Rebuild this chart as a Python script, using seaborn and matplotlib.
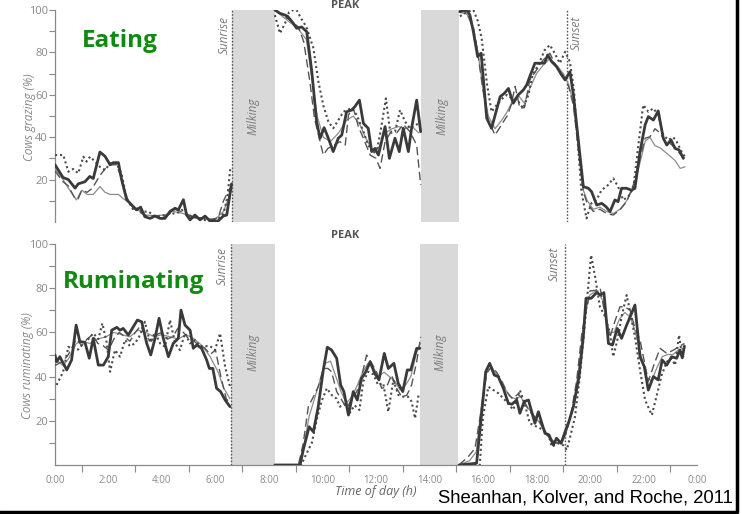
import numpy as np
import pandas as pd
import matplotlib
matplotlib.use("Agg")
import matplotlib.pyplot as plt
from matplotlib.lines import Line2D
import seaborn as sns

# ---------------- DATA (hour of day, % of cows) ----------------
# Eating (top panel)
eat_solid_t = [0.0, 0.3, 0.5, 0.75, 0.87, 1.12, 1.3, 1.43, 1.68, 1.87, 2.06, 2.18, 2.37, 2.49, 2.68, 2.87, 3.05, 3.2, 3.36, 3.55, 3.74, 3.93, 4.11, 4.3, 4.49, 4.61, 4.8, 4.92, 5.05, 5.23, 5.42, 5.61, 5.79, 6.1, 6.29, 6.42, 6.6,
               8.22, 8.41, 8.6, 8.7, 8.91, 9.03, 9.22, 9.41, 9.6, 9.78, 9.91, 10.06, 10.22, 10.4, 10.59, 10.72, 10.9, 11.09, 11.21, 11.38, 11.53, 11.71, 11.84, 11.96, 12.09, 12.34, 12.5, 12.71, 12.87, 13.02, 13.21, 13.33, 13.52, 13.67,
               15.14, 15.39, 15.51, 15.64, 15.8, 15.93, 16.14, 16.32, 16.64, 16.8, 16.95, 17.13, 17.32, 17.51, 17.63, 17.94, 18.13, 18.3, 18.42, 18.57, 18.75, 18.94, 19.07, 19.25, 19.38, 19.75, 19.94, 20.06, 20.25, 20.44, 20.6, 20.75, 20.93, 21.05, 21.18, 21.37, 21.55, 21.68, 21.87, 22.06, 22.18, 22.37, 22.55, 22.74, 22.87, 23.03, 23.18, 23.33, 23.49]
eat_solid_v = [27, 21, 20, 16, 18, 19, 21.5, 20.5, 33, 31, 27, 28, 28, 20, 10.5, 8, 5.7, 7, 2.5, 1.7, 2.8, 1.7, 1.7, 5, 6.5, 5.7, 10.5, 3.3, 1, 3.3, 1, 2.8, 0.5, 0.5, 2.8, 3.3, 18,
               100, 98.4, 97.6, 97, 93.7, 91.4, 92, 89.8, 71, 47.3, 39.5, 44.5, 39.5, 33.2, 39.5, 41, 52, 52.8, 54.4, 57.5, 46.5, 44.2, 33.2, 34.7, 31.6, 45, 30, 39.5, 33.2, 44.2, 33.2, 44.2, 57.5, 42.6,
               99.2, 100, 97.6, 89.8, 78, 79.6, 48.9, 44.2, 59.1, 60.7, 63, 56, 60, 62.3, 64.6, 74.9, 74.9, 75, 78.8, 75.6, 73.3, 69.3, 67, 70.9, 60, 16.7, 15.9, 14.3, 8, 8.8, 7.2, 4.9, 10.4, 9.6, 15.9, 15.9, 15, 15.9, 33.2, 45.8, 49.7, 48.1, 52.4, 39.5, 36.3, 38.7, 34.7, 34, 30]

eat_dot_t = [0.0, 0.31, 0.5, 0.68, 0.87, 1.06, 1.18, 1.31, 1.5, 1.68, 1.87, 2.06, 2.3, 2.49, 2.68, 2.93, 3.1, 3.24, 3.5, 3.74, 4.11, 4.36, 4.55, 4.74, 4.99, 5.36, 5.74, 6.11, 6.3, 6.45, 6.55,
             8.22, 8.41, 8.6, 8.75, 8.91, 9.03, 9.2, 9.4, 9.66, 9.85, 10.03, 10.22, 10.4, 10.59, 10.78, 10.95, 11.09, 11.28, 11.53, 11.71, 11.9, 12.05, 12.2, 12.37, 12.53, 12.71, 12.9, 13.09, 13.27, 13.52, 13.67,
             15.14, 15.39, 15.64, 15.8, 15.95, 16.15, 16.32, 16.5, 16.7, 16.9, 17.1, 17.32, 17.5, 17.7, 17.85, 18.1, 18.3, 18.5, 18.68, 18.87, 19.07, 19.25, 19.4, 19.68, 19.87, 20.05, 20.24, 20.43, 20.68, 20.87, 21.05, 21.24, 21.43, 21.62, 21.8, 21.99, 22.18, 22.37, 22.55, 22.74, 22.93, 23.11, 23.24, 23.43, 23.55]
eat_dot_v = [31.6, 31.6, 23.7, 25, 23, 30.8, 28.5, 30.8, 28.5, 26, 24.5, 27.7, 27.7, 22.6, 11.2, 5.7, 6.5, 4.9, 4.9, 2.5, 3.3, 4, 4, 5.7, 3.3, 1.7, 0.5, 1.7, 4, 12, 25,
             97.6, 89, 93.7, 99, 100, 100, 96, 92, 82, 66, 55, 47.3, 44.2, 48, 52, 53, 53.7, 50.5, 42.6, 36.3, 32.3, 34.7, 45, 58.3, 42.6, 42.6, 52.8, 47.3, 44.2, 46, 47.3,
             97, 99, 100, 95, 86.6, 65, 52, 55, 58, 60, 58, 56.8, 53.6, 60, 69, 74.9, 81, 83.5, 79.6, 74.9, 80.3, 75.6, 62, 14.3, 1.7, 8.8, 10.4, 15, 17.5, 20.6, 16.7, 10.4, 12, 16, 35.5, 55.2, 52, 53.6, 50.5, 41, 38.7, 40, 37.9, 33, 30.8]

eat_dash_t = [0.0, 0.3, 0.5, 0.75, 0.87, 1.0, 1.2, 1.4, 1.68, 1.87, 2.06, 2.3, 2.5, 2.7, 2.9, 3.1, 3.4, 3.7, 4.0, 4.3, 4.5, 4.7, 4.9, 5.2, 5.5, 5.8, 6.1, 6.3, 6.45, 6.6,
              8.22, 8.5, 8.8, 9.1, 9.3, 9.53, 9.7, 10.03, 10.2, 10.4, 10.65, 10.85, 10.97, 11.15, 11.34, 11.53, 11.78, 12.0, 12.15, 12.34, 12.53, 12.77, 13.02, 13.27, 13.52, 13.67,
              15.1, 15.4, 15.64, 15.8, 16.0, 16.2, 16.45, 16.7, 16.9, 17.05, 17.2, 17.38, 17.55, 17.75, 18.0, 18.25, 18.5, 18.75, 19.0, 19.2, 19.38, 19.6, 19.75, 19.87, 20.12, 20.37, 20.62, 20.87, 21.12, 21.37, 21.62, 21.87, 22.06, 22.24, 22.43, 22.62, 22.81, 23.0, 23.18, 23.37, 23.55]
eat_dash_v = [24, 19, 17, 11, 11, 15, 14, 16, 22, 25, 27, 27, 20, 11, 7, 5, 3, 3, 2, 4, 6, 5, 4, 2, 2, 1, 2, 10, 14, 17,
              100, 98, 95, 92, 85, 66, 48.9, 31.6, 34.7, 36, 37.9, 36.3, 50.5, 53.7, 45, 39.5, 31.6, 30, 25.3, 37.9, 41.9, 42, 46, 42.6, 36.3, 17.5,
              100, 99, 92, 80, 62, 48, 41, 46, 50, 55, 64, 53.6, 54, 67, 71.7, 76.4, 79.6, 73, 69, 64, 55, 30, 14.3, 9.6, 5, 6, 4, 3.3, 5.7, 9.6, 17.5, 30, 39.5, 40.2, 44, 42, 38, 37, 35, 32, 30]

eat_thin_t = [0.0, 0.3, 0.55, 0.8, 1.0, 1.2, 1.43, 1.68, 1.87, 2.06, 2.37, 2.55, 2.74, 2.93, 3.1, 3.36, 3.7, 4.11, 4.4, 4.8, 5.1, 5.6, 6.0, 6.3, 6.6,
              8.22, 8.5, 8.8, 9.1, 9.4, 9.6, 9.8, 10.03, 10.3, 10.6, 10.9, 11.15, 11.4, 11.6, 11.85, 12.1, 12.34, 12.6, 12.85, 13.1, 13.35, 13.6,
              15.1, 15.4, 15.64, 15.8, 16.0, 16.2, 16.45, 16.7, 16.9, 17.1, 17.3, 17.55, 17.75, 18.0, 18.25, 18.5, 18.75, 19.0, 19.2, 19.38, 19.6, 19.75, 19.9, 20.12, 20.37, 20.62, 20.87, 21.12, 21.37, 21.62, 21.87, 22.06, 22.24, 22.43, 22.62, 22.81, 23.0, 23.18, 23.37, 23.55]
eat_thin_v = [25, 20, 15, 10.4, 15, 13, 13, 16.7, 14, 13, 13, 11, 9.5, 7, 5.7, 3.3, 3, 3.3, 5, 4, 2, 1.5, 1.5, 5, 15,
              100, 97, 94, 91, 86, 68, 50, 40, 38, 42, 48, 50, 46, 40, 34, 35, 42, 44, 45, 44, 45, 42,
              99, 98, 91, 81, 63, 50, 44, 48, 52, 57, 60, 56, 63, 70, 74, 77, 74, 70, 65, 56, 32, 15, 10, 6, 7, 5, 4, 6, 10, 16, 28, 38, 40, 36, 35, 33, 31, 29, 25.3, 26]

# Ruminating (bottom panel)
rum_solid_t = [0.0, 0.06, 0.18, 0.31, 0.44, 0.62, 0.79, 0.93, 1.12, 1.28, 1.43, 1.62, 1.81, 1.99, 2.12, 2.31, 2.43, 2.55, 2.74, 2.93, 3.08, 3.24, 3.43, 3.58, 3.74, 3.89, 4.05, 4.24, 4.42, 4.61, 4.71, 4.86, 5.05, 5.17, 5.3, 5.48, 5.67, 5.77, 5.9, 6.04, 6.19, 6.36, 6.54,
               8.22, 9.16, 9.28, 9.5, 9.66, 9.84, 10.03, 10.18, 10.34, 10.53, 10.68, 10.8, 10.97, 11.15, 11.3, 11.46, 11.62, 11.78, 11.95, 12.11, 12.31, 12.46, 12.67, 12.83, 13.0, 13.17, 13.3, 13.52, 13.64,
               15.1, 15.76, 15.95, 16.1, 16.25, 16.42, 16.57, 16.76, 16.95, 17.08, 17.26, 17.38, 17.54, 17.7, 17.94, 18.07, 18.2, 18.32, 18.47, 18.63, 18.75, 18.92, 19.07, 19.21, 19.38, 19.59, 19.75, 19.85, 20.04, 20.25, 20.38, 20.52, 20.69, 20.84, 21.02, 21.18, 21.37, 21.53, 21.68, 21.87, 22.03, 22.18, 22.37, 22.55, 22.7, 22.87, 23.05, 23.24, 23.36, 23.45, 23.53]
rum_solid_v = [49.8, 46.7, 49, 46, 43, 47.5, 63.3, 55.8, 55.5, 48.3, 57.3, 45.2, 45.2, 49, 61, 62.3, 61, 61.8, 58.8, 62.6, 65.6, 64.8, 55, 49.8, 57.3, 66.4, 57.3, 49, 55, 57.3, 70.1, 63.3, 61, 52.8, 54.3, 52.8, 47.5, 43.7, 43.7, 34.7, 33.2, 29.4, 26.4,
               0, 0, 6.8, 17.3, 15, 26.4, 43, 53.3, 52, 48.3, 36.2, 33.2, 22.6, 33.2, 29.4, 39.2, 42.2, 46.7, 41.5, 38.5, 50.5, 43.7, 46, 37, 33.2, 43, 43, 52.8, 52.8,
               0, 0.8, 23.4, 42.2, 46, 40.7, 40, 34.7, 27.9, 27.5, 29.4, 23.4, 28.7, 29.4, 18.9, 24.1, 18.9, 14.3, 13.6, 9, 12.1, 9.8, 15.1, 19.6, 26.4, 40, 58, 75.4, 75.4, 78, 77, 78, 55, 54.3, 61.8, 57.3, 63.3, 67.9, 72.4, 49, 44.5, 33.9, 40, 38.5, 47.5, 45.2, 49, 48.3, 52, 48.5, 53.8]

rum_dot_t = [0.06, 0.3, 0.5, 0.68, 0.87, 1.06, 1.25, 1.43, 1.62, 1.77, 1.93, 2.06, 2.24, 2.43, 2.62, 2.8, 2.99, 3.18, 3.36, 3.55, 3.74, 3.93, 4.11, 4.3, 4.49, 4.67, 4.86, 5.05, 5.23, 5.42, 5.61, 5.8, 5.98, 6.17, 6.36, 6.54,
             8.22, 9.2, 9.41, 9.6, 9.78, 9.97, 10.16, 10.34, 10.53, 10.65, 10.84, 11.03, 11.2, 11.38, 11.53, 11.71, 11.9, 12.08, 12.27, 12.46, 12.65, 12.83, 13.02, 13.2, 13.33, 13.46, 13.6,
             15.1, 15.88, 16.0, 16.2, 16.38, 16.57, 16.82, 17.13, 17.38, 17.55, 17.75, 18.0, 18.25, 18.45, 18.57, 18.82, 19.0, 19.13, 19.26, 19.44, 19.62, 19.81, 20.04, 20.19, 20.37, 20.56, 20.74, 20.87, 21.05, 21.18, 21.37, 21.49, 21.68, 21.87, 22.06, 22.31, 22.5, 22.68, 22.87, 23.05, 23.18, 23.33, 23.43, 23.53]
rum_dot_v = [36.2, 42, 53.5, 52, 52.3, 55, 57, 59.6, 57, 64.1, 55.5, 42.2, 52, 49, 56.6, 53.8, 55, 58.8, 64.8, 55.5, 60, 55, 53.5, 65.6, 55, 52, 59.6, 55, 56.6, 53.8, 53.8, 53.8, 52, 59.6, 44.5, 35.4,
             0, 0, 5.3, 10, 20.4, 29, 34.7, 31.7, 30, 26.4, 27.5, 23.7, 27, 24.9, 38, 42.2, 41, 36.2, 37, 24.1, 38.5, 31.7, 30.9, 30.9, 28.7, 21.1, 32.5,
             0, 0, 22, 35.4, 34, 32.5, 29.4, 25, 33.9, 28, 18.9, 17.4, 15.9, 13.5, 8.3, 9.8, 9, 6.8, 12.8, 21.9, 40, 64.1, 95, 85.2, 71.6, 67.3, 60, 49, 58, 67, 76.9, 70, 58, 42.9, 29.4, 22.6, 31.7, 40.7, 46.7, 48.3, 45.2, 58.8, 50, 48.3]

rum_dash_t = [0.0, 0.3, 0.5, 0.8, 1.0, 1.2, 1.4, 1.6, 1.8, 2.0, 2.2, 2.4, 2.6, 2.8, 3.0, 3.2, 3.4, 3.6, 3.8, 4.0, 4.2, 4.4, 4.6, 4.8, 5.0, 5.2, 5.4, 5.6, 5.8, 6.0, 6.2, 6.4, 6.54,
              8.22, 9.1, 9.28, 9.47, 9.66, 9.84, 10.03, 10.2, 10.34, 10.53, 10.72, 10.9, 11.1, 11.28, 11.46, 11.65, 11.84, 12.02, 12.21, 12.4, 12.58, 12.77, 12.96, 13.15, 13.33, 13.52, 13.67,
              15.1, 15.45, 15.7, 15.95, 16.14, 16.32, 16.51, 16.7, 16.9, 17.1, 17.3, 17.5, 17.7, 17.9, 18.1, 18.3, 18.5, 18.7, 18.9, 19.1, 19.3, 19.5, 19.7, 20.0, 20.19, 20.38, 20.56, 20.75, 20.93, 21.12, 21.3, 21.5, 21.68, 21.87, 22.06, 22.18, 22.43, 22.62, 22.87, 23.12, 23.33, 23.53]
rum_dash_v = [45, 47, 50, 57, 54, 57, 59, 55, 54, 52, 57, 60, 58, 56, 60, 63, 58, 56, 59, 60, 57, 58, 62, 60, 57, 56, 54, 53, 50, 52, 40, 30, 28,
              0, 0, 9.8, 26.4, 30.9, 35.4, 43.7, 43.7, 42.2, 33.2, 29.4, 25.6, 30, 33.2, 40, 49.8, 46, 42.2, 34.7, 35.4, 40.7, 34.7, 30.9, 31.5, 36.2, 46.7, 58,
              0, 3.8, 7.5, 26, 41.5, 44.5, 42, 38, 33, 30, 32, 30, 25, 22, 20, 15, 12, 10, 10, 14, 24, 38, 60, 78.8, 79, 80, 68, 58, 65, 71.6, 71.6, 70, 62, 56.6, 45, 37.9, 46.7, 52.8, 50.5, 52, 53.6, 55]

rum_thin_t = [0.0, 0.3, 0.5, 0.8, 1.0, 1.3, 1.6, 1.9, 2.2, 2.5, 2.8, 3.1, 3.4, 3.7, 4.0, 4.3, 4.6, 4.9, 5.2, 5.5, 5.8, 6.1, 6.3, 6.54,
              8.22, 9.1, 9.3, 9.5, 9.7, 9.9, 10.1, 10.3, 10.5, 10.7, 10.9, 11.1, 11.3, 11.5, 11.7, 11.9, 12.1, 12.3, 12.5, 12.7, 12.9, 13.1, 13.3, 13.5, 13.65,
              15.1, 15.5, 15.75, 15.95, 16.15, 16.35, 16.55, 16.8, 17.0, 17.2, 17.4, 17.6, 17.8, 18.0, 18.3, 18.5, 18.75, 19.0, 19.2, 19.4, 19.6, 19.8, 20.0, 20.25, 20.5, 20.7, 20.9, 21.1, 21.3, 21.5, 21.7, 21.9, 22.1, 22.3, 22.5, 22.7, 22.9, 23.1, 23.3, 23.53]
rum_thin_v = [48, 45, 48, 55, 56, 55, 57, 58, 60, 59, 58, 61, 60, 58, 59, 58, 57, 59, 57, 54, 49, 42, 35, 30,
              0, 0, 8, 22, 30, 38, 46, 47, 40, 33, 28, 31, 36, 42, 46, 44, 40, 42, 40, 38, 34, 36, 40, 50, 55,
              0, 2, 6, 28, 43, 44, 40, 35, 31, 30, 31, 27, 24, 21, 16, 12, 10, 11, 18, 28, 45, 68, 77, 79, 74, 60, 60, 66, 69, 67, 60, 50, 40, 38, 44, 49, 50, 50, 52, 53]

hour_labels = ["0:00", "2:00", "4:00", "6:00", "8:00", "10:00", "12:00",
               "14:00", "16:00", "18:00", "20:00", "22:00", "0:00"]
milking_top = [(6.62, 8.22), (13.68, 15.10)]
milking_bottom = [(6.58, 8.22), (13.64, 15.07)]
sunrise_top, sunset_top = 6.62, 19.14
sunrise_bottom, sunset_bottom = 6.58, 19.07

# ---------------- STYLE ----------------
sns.set_theme(style="white")
plt.rcParams['font.family'] = ['Open Sans', 'DejaVu Sans']

styles = {
    "solid": dict(color="#3a3a3a", lw=2.0, ls="-"),
    "dot": dict(color="#4a4a4a", lw=1.5, ls=(0, (1, 1.4))),
    "dash": dict(color="#555555", lw=1.0, ls=(0, (6, 3))),
    "thin": dict(color="#8c8c8c", lw=0.9, ls="-"),
}


def to_frame(t, v):
    df = pd.DataFrame({"h": t, "v": v})
    df["seg"] = (df["h"].diff() > 1.0).cumsum()
    return df


def draw(ax, series):
    for name, (t, v) in series.items():
        df = to_frame(t, v)
        st = styles[name]
        sns.lineplot(data=df, x="h", y="v", units="seg", estimator=None, ax=ax,
                     color=st["color"], linewidth=st["lw"], linestyle=st["ls"],
                     legend=False, zorder=3, sort=False)


fig = plt.figure(figsize=(7.42, 5.14), dpi=100)
W, H = 742, 514
ax1 = fig.add_axes([55 / W, (H - 222) / H, 642 / W, 212 / H])
ax2 = fig.add_axes([55 / W, (H - 465) / H, 642 / W, 221 / H])

gray_txt = "#8a8a8a"
spine_c = "#8a8a8a"

for ax, milk, sr, ss in [(ax1, milking_top, sunrise_top, sunset_top),
                         (ax2, milking_bottom, sunrise_bottom, sunset_bottom)]:
    for a, b in milk:
        ax.axvspan(a, b, color="#d9d9d9", lw=0, zorder=1)
    ax.axvline(sr, color="#555555", lw=1.0, ls=(0, (1.2, 1.2)), zorder=2)
    ax.axvline(ss, color="#555555", lw=1.0, ls=(0, (1.2, 1.2)), zorder=2)
    for s in ["top", "right"]:
        ax.spines[s].set_visible(False)
    ax.spines["left"].set_color(spine_c)
    ax.spines["left"].set_linewidth(0.9)
    ax.set_yticks([20, 40, 60, 80, 100])
    ax.set_yticks([10, 30, 50, 70, 90], minor=True)
    ax.tick_params(axis="y", which="both", direction="out", length=4, width=0.8,
                   color=spine_c, labelsize=8, labelcolor=gray_txt, pad=1, left=True)
    ax.patch.set_alpha(0)

draw(ax1, {"thin": (eat_thin_t, eat_thin_v), "dash": (eat_dash_t, eat_dash_v),
           "dot": (eat_dot_t, eat_dot_v), "solid": (eat_solid_t, eat_solid_v)})
draw(ax2, {"thin": (rum_thin_t, rum_thin_v), "dash": (rum_dash_t, rum_dash_v),
           "dot": (rum_dot_t, rum_dot_v), "solid": (rum_solid_t, rum_solid_v)})

for ax in (ax1, ax2):
    ax.set_xlim(0, 24)
    ax.set_ylim(0, 100)
    ax.set_xlabel("")
    ax.set_ylabel("")

# top panel: no x axis
ax1.spines["bottom"].set_visible(False)
ax1.set_xticks([])

# bottom panel x axis
ax2.spines["bottom"].set_color(spine_c)
ax2.spines["bottom"].set_linewidth(0.9)
ax2.set_xticks(list(range(1, 24, 2)))
ax2.set_xticklabels([""] * 12)
ax2.set_xticks(list(range(0, 25, 2)), minor=True)
ax2.set_xticklabels(hour_labels, minor=True)
ax2.tick_params(axis="x", which="major", direction="out", length=5, width=0.8,
                color=spine_c, bottom=True)
ax2.tick_params(axis="x", which="minor", length=0, labelsize=7, labelcolor=gray_txt,
                pad=7, bottom=True)

# in-panel annotations
ann = dict(rotation=90, style="italic", color="#7a7a7a", fontsize=8.5,
           ha="center", va="center", zorder=4)
ax1.text(6.32, 88, "Sunrise", **ann)
ax1.text(19.48, 89, "Sunset", **ann)
ax1.text(7.40, 50, "Milking", **ann)
ax1.text(14.47, 50, "Milking", **ann)
ax2.text(6.24, 90, "Sunrise", **ann)
ax2.text(18.65, 91, "Sunset", **ann)
ax2.text(7.40, 51, "Milking", **ann)
ax2.text(14.39, 51, "Milking", **ann)

# figure texts
fig.text(345 / W, 1 - 5 / H, "PEAK", ha="center", va="center", fontsize=8,
         fontweight="bold", color="#555555")
fig.text(345 / W, 1 - 236 / H, "PEAK", ha="center", va="center", fontsize=8,
         fontweight="bold", color="#555555")
fig.text(120 / W, 1 - 41 / H, "Eating", ha="center", va="center", fontsize=17.5,
         fontweight="bold", color="#108a10")
fig.text(134 / W, 1 - 282 / H, "Ruminating", ha="center", va="center", fontsize=17.5,
         fontweight="bold", color="#108a10")
fig.text(30 / W, 1 - 117 / H, "Cows grazing (%)", rotation=90, ha="center", va="center",
         fontsize=8.5, style="italic", color=gray_txt)
fig.text(27 / W, 1 - 366 / H, "Cows ruminating (%)", rotation=90, ha="center", va="center",
         fontsize=8.5, style="italic", color=gray_txt)
fig.text(376 / W, 1 - 492 / H, "Time of day (h)", ha="center", va="center",
         fontsize=9, style="italic", color="#666666")
fig.text(585 / W, 1 - 498 / H, "Sheanhan, Kolver, and Roche, 2011", ha="center",
         va="center", fontsize=13.3, color="black", family=["Liberation Sans", "DejaVu Sans"])

# slide frame lines (right and bottom)
fig.add_artist(Line2D([737 / W, 737 / W], [1 - 511 / H, 1.0], transform=fig.transFigure,
                      color="black", lw=2.5))
fig.add_artist(Line2D([0, 737 / W], [1 - 511.5 / H, 1 - 511.5 / H], transform=fig.transFigure,
                      color="black", lw=2.5))

fig.savefig("out.png", dpi=100)
